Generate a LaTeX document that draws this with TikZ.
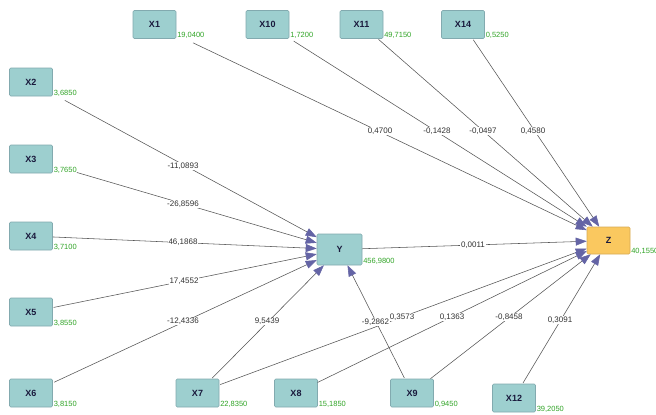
\documentclass[tikz,border=0pt]{standalone}
\usepackage{fontspec}
\setmainfont{Liberation Sans}
\usetikzlibrary{arrows.meta}
\definecolor{boxfill}{RGB}{157,207,207}
\definecolor{boxline}{RGB}{130,170,175}
\definecolor{zfill}{RGB}{250,200,95}
\definecolor{zline}{RGB}{215,170,85}
\definecolor{navy}{RGB}{25,25,60}
\definecolor{valgreen}{RGB}{50,165,40}
\definecolor{wtext}{RGB}{50,50,50}
\definecolor{linegray}{RGB}{85,85,85}
\definecolor{arrowc}{RGB}{100,100,165}
\begin{document}
\begin{tikzpicture}[x=1pt,y=-1pt,
  var/.style={draw=boxline, fill=boxfill, minimum width=43pt, minimum height=28pt, inner sep=0pt,
    rounded corners=1.2pt, font=\fontsize{9}{10}\selectfont\bfseries, text=navy, line width=0.6pt},
  dep/.style={var, fill=zfill, draw=zline},
  val/.style={anchor=base west, inner sep=0.8pt, font=\fontsize{7.5}{8}\selectfont, text=valgreen},
  wt/.style={fill=white, inner sep=0.6pt, font=\fontsize{8}{9}\selectfont, text=wtext},
  link/.style={draw=linegray, line width=0.55pt, -{Triangle[length=11pt,width=8pt,color=arrowc]}}
]
\useasboundingbox (0,0) rectangle (656,415);
\fill[white] (0,0) rectangle (656,415);

% nodes
\node[var] (X1) at (154.5,24.5) {X1};
\node[var] (X10) at (267.5,24.5) {X10};
\node[var] (X11) at (361.5,24.5) {X11};
\node[var] (X14) at (463,24.5) {X14};
\node[var] (X2) at (31,82) {X2};
\node[var] (X3) at (31,159) {X3};
\node[var] (X4) at (31,236) {X4};
\node[var] (X5) at (31,312) {X5};
\node[var] (X6) at (31,393) {X6};
\node[var] (X7) at (197.5,393) {X7};
\node[var] (X8) at (296,393) {X8};
\node[var] (X9) at (412,393) {X9};
\node[var] (X12) at (514,398) {X12};
\node[var, minimum width=45pt, minimum height=31pt] (Y) at (339.5,249.5) {Y};
\node[dep, minimum height=27pt] (Z) at (608.5,240.5) {Z};

% values
\node[val] (X1v) at ([yshift=1pt]X1.south east) {19,0400};
\node[val] (X10v) at ([yshift=1pt]X10.south east) {1,7200};
\node[val] (X11v) at ([yshift=1pt]X11.south east) {49,7150};
\node[val] (X14v) at ([yshift=1pt]X14.south east) {0,5250};
\node[val] (X2v) at ([yshift=1pt]X2.south east) {3,6850};
\node[val] (X3v) at ([yshift=1pt]X3.south east) {3,7650};
\node[val] (X4v) at ([yshift=1pt]X4.south east) {3,7100};
\node[val] (X5v) at ([yshift=1pt]X5.south east) {3,8550};
\node[val] (X6v) at ([yshift=1pt]X6.south east) {3,8150};
\node[val] (X7v) at ([yshift=1pt]X7.south east) {22,8350};
\node[val] (X8v) at ([yshift=1pt]X8.south east) {15,1850};
\node[val] (X9v) at ([yshift=1pt]X9.south east) {0,9450};
\node[val] (X12v) at ([yshift=1pt]X12.south east) {39,2050};
\node[val] (Yv) at ([yshift=2pt]Y.south east) {456,9800};
\node[val] (Zv) at ([yshift=1pt]Z.south east) {40,1550};

% connectors
\draw[link, shorten <=42.7pt] (X1.center) -- (Z);
\draw[link, shorten <=31pt] (X10.center) -- (Z);
\draw[link, shorten <=22.6pt] (X11.center) -- (Z);
\draw[link, shorten <=18.4pt] (X14.center) -- (Z);
\draw[link, shorten <=38.5pt] (X2.center) -- (Y);
\draw[link, shorten <=47.8pt] (X3.center) -- (Y);
\draw[link, shorten <=22pt] (X4.center) -- (Y);
\draw[link, shorten <=23pt] (X5.center) -- (Y);
\draw[link, shorten <=25.6pt] (X6.center) -- (Y);
\draw[link, shorten <=20.9pt] (X7.center) -- (Y);
\draw[link, shorten <=24.2pt] (X7.center) -- (Z);
\draw[link, shorten <=24pt] (X8.center) -- (Z);
\draw[link, shorten <=17pt] (X9.center) -- (Y);
\draw[link, shorten <=23.4pt] (X9.center) -- (Z);
\draw[link, shorten <=17.5pt] (X12.center) -- (Z);
\draw[link] (Y) -- (Z);

% weights
\node[wt] (w1) at (380,131) {0,4700};
\node[wt] (w10) at (437,131) {-0,1428};
\node[wt] (w11) at (483,131) {-0,0497};
\node[wt] (w14) at (533,131) {0,4580};
\node[wt] (w2) at (183,166) {-11,0893};
\node[wt] (w3) at (183,204) {-26,8596};
\node[wt] (w4) at (183,242.5) {46,1868};
\node[wt] (w5) at (184,281) {17,4552};
\node[wt] (w6) at (183,321.5) {-12,4336};
\node[wt] (w7y) at (267,321.5) {9,5439};
\node[wt] (w7z) at (402,317) {0,3573};
\node[wt] (w8) at (452,317) {0,1363};
\node[wt] (w9y) at (375.5,322) {-9,2862};
\node[wt] (w9z) at (509,317) {-0,8458};
\node[wt] (w12) at (560,320) {0,3091};
\node[wt] (wy) at (473,245) {0,0011};
\end{tikzpicture}
\end{document}
